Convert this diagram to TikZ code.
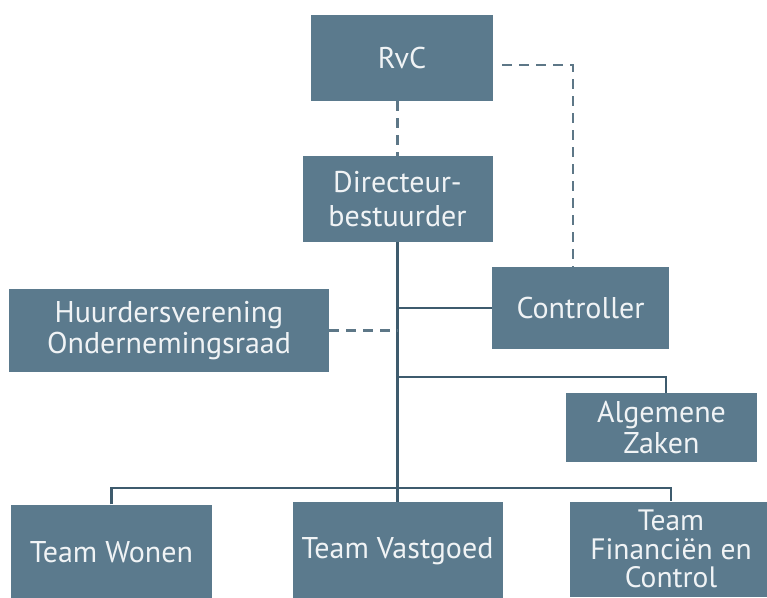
\documentclass[tikz,border=0pt]{standalone}
\usepackage{fontspec}
\setmainfont{PT Sans}
\definecolor{boxfill}{HTML}{5B7A8D}
\definecolor{linecol}{HTML}{3E5B6D}
\definecolor{dashcol}{HTML}{5D7787}
\definecolor{txt}{HTML}{F0F3F5}
\begin{document}
\begin{tikzpicture}[x=1pt,y=-1pt,
  unit/.style={draw=none,fill=boxfill,text=txt,font=\fontsize{30}{31}\selectfont,
    align=center,inner sep=0pt,minimum width=#1},
  solidline/.style={draw=linecol,line width=2.4pt},
  dashline/.style={draw=dashcol,line width=2.4pt,dash pattern=on 10pt off 7pt}]
\fill[white] (0,0) rectangle (767,597);
\clip (0,0) rectangle (767,597);
\node[unit=182pt,minimum height=86pt] (rvc) at (402,58) {RvC};
\node[unit=190pt,minimum height=86pt] (dir) at (397.5,199) {Directeur-\\[3pt]bestuurder};
\node[unit=177pt,minimum height=82pt] (ctrl) at (580.5,308) {Controller};
\node[unit=320pt,minimum height=83pt] (huur) at (169,330.5) {Huurdersverening\\Ondernemingsraad};
\node[unit=191pt,minimum height=69pt] (alg) at (661.5,427.5) {Algemene\\Zaken};
\node[unit=201pt,minimum height=95pt] (won) at (111.5,552) {Team Wonen};
\node[unit=210pt,minimum height=98pt] (vast) at (397.5,551) {Team Vastgoed};
\node[unit=202pt,minimum height=95pt,font=\fontsize{29.5}{28.5}\selectfont] (fin) at (671,549) {Team\\Financiën en\\Control};
\coordinate (rvcout) at (502,65);
\coordinate (ctrlin) at (573,267);
\coordinate (algbend) at (666,377);
\coordinate (algin) at (666,393);
\coordinate (bus) at (397.5,488);
% connectors
\draw[dashline] (rvc.south -| dir.north) -- (dir.north);
\draw[dashline] (rvcout) -| (ctrlin);
\draw[solidline] (dir.south) -- (vast.north);
\draw[solidline] (dir.south |- ctrl.west) -- (ctrl.west);
\draw[dashline] (huur.east) -- (huur.east -| dir.south);
\draw[solidline] (dir.south |- algbend) -| (algin);
\draw[solidline] (won.north) |- (bus) -| (fin.north);
\end{tikzpicture}
\end{document}
